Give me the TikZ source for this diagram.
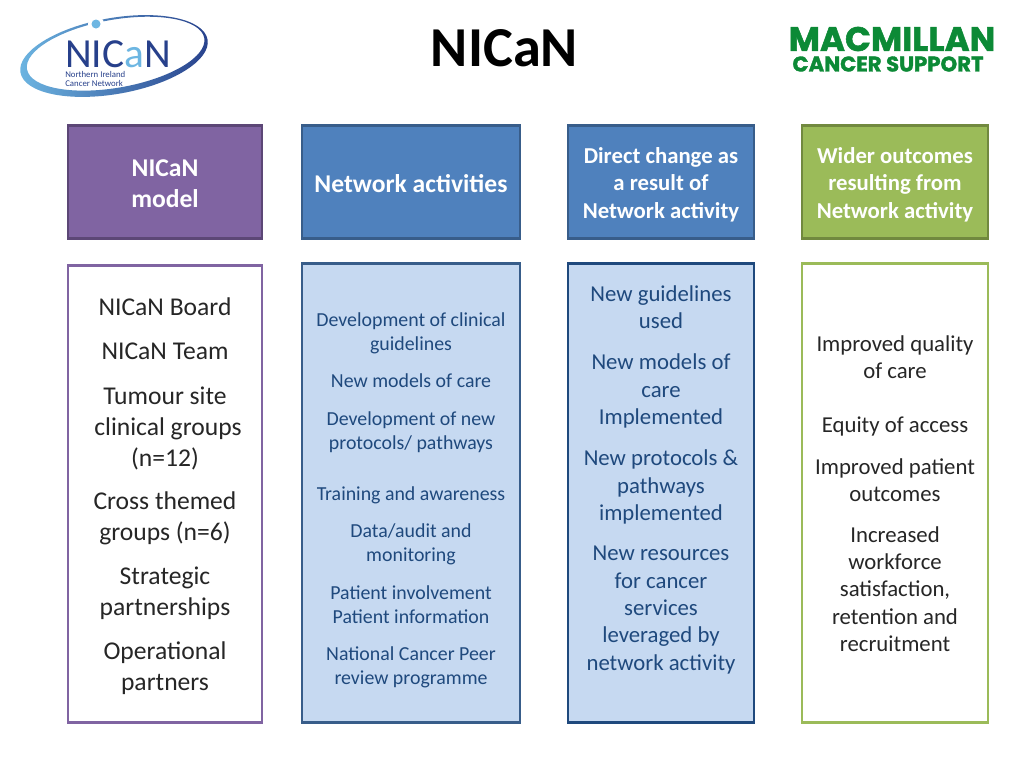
\documentclass[tikz,border=0pt]{standalone}
\usepackage{fontspec}
\setmainfont{Carlito}
\newfontfamily\macfont[FakeBold=1.5]{Poppins}
\definecolor{navy}{HTML}{1F497D}
\definecolor{midblue}{HTML}{4F81BD}
\definecolor{edgeblue}{HTML}{385D8A}
\definecolor{paleblue}{HTML}{C6D9F1}
\definecolor{purp}{HTML}{8064A2}
\definecolor{edgepurp}{HTML}{5C4776}
\definecolor{olive}{HTML}{9BBB59}
\definecolor{edgeolive}{HTML}{71893F}
\definecolor{macgreen}{HTML}{0C8A36}
\definecolor{logoblue}{HTML}{27408B}
\definecolor{logolight}{HTML}{6DB6E2}
\tikzset{
  box/.style={draw,line width=2.2pt,inner sep=0pt,minimum width=#1},
  head/.style={box=#1,minimum height=85pt},
  body/.style={box=#1,minimum height=344pt,fill=paleblue,draw=edgeblue},
  big/.style={align=center,text=black!85,font=\fontsize{19.2}{23.4}\selectfont},
  small/.style={align=center,text=navy,font=\fontsize{14.9}{18}\selectfont},
  mid/.style={align=center,text=navy,font=\fontsize{17.07}{20.5}\selectfont},
  boldmid/.style={align=center,text=white,font=\fontsize{17.07}{20.5}\selectfont\bfseries},
  boldbig/.style={align=center,text=white,font=\fontsize{19.2}{23}\selectfont\bfseries},
}
\begin{document}
\begin{tikzpicture}[x=.75pt,y=-.75pt]
  \useasboundingbox[fill=white] (0,0) rectangle (1024,768);
  % logo on the left
  \shade[left color=logolight,right color=logoblue,even odd rule,rotate around={10:(114,56)}]
    (114,56) ellipse [x radius=95,y radius=38] (116,54) ellipse [x radius=90,y radius=34];
  \fill[white] (96,24) circle (8);
  \fill[logolight] (96,24) circle (4.5);
  \node[text=logoblue,inner sep=0pt,font=\fontsize{31}{31}\selectfont] (logoname) at (118,54) {NIC\textcolor{logolight}{a}N};
  \node[text=logoblue,align=left,font=\fontsize{6.6}{7}\selectfont,anchor=north west,inner sep=0pt] (logosub) at (65,71) {Northern Ireland\\Cancer Network};
  \node[font=\fontsize{42.3}{50}\selectfont\bfseries] (title) at (504.5,48) {NICaN};
  % logo on the right
  \node[text=macgreen,inner sep=0pt,font=\macfont\bfseries\fontsize{25.5}{25.5}\selectfont] (macname) at (892,39) {MACMILLAN};
  \node[text=macgreen,inner sep=0pt,font=\macfont\bfseries\fontsize{15.9}{15.9}\selectfont] (macsub) at (888,64) {CANCER SUPPORT};
  % heading boxes
  \node[head=194*.75pt,fill=purp,draw=edgepurp] (modelhead) at (165,182) {};
  \node[head=218*.75pt,fill=midblue,draw=edgeblue] (activehead) at (411,182) {};
  \node[head=186*.75pt,fill=midblue,draw=edgeblue] (directhead) at (661,182) {};
  \node[head=186*.75pt,fill=olive,draw=edgeolive] (widerhead) at (895,182) {};
  \node[boldbig] (modeltxt) at (165,183.5) {NICaN\\model};
  \node[boldbig] (activetxt) at (411,183.5) {Network activities};
  \node[boldmid] (directtxt) at (661,184.5) {Direct change as\\a result of\\Network activity};
  \node[boldmid] (widertxt) at (895,184.5) {Wider outcomes\\resulting from\\Network activity};
  % lower boxes
  \node[body=194*.75pt,fill=white,draw=purp,minimum height=343pt] (modelbody) at (165,494) {};
  \node[body=218*.75pt] (activebody) at (411,493) {};
  \node[body=186*.75pt,draw=navy] (directbody) at (661,493) {};
  \node[body=186*.75pt,fill=white,draw=olive] (widerbody) at (895,493) {};
  % first column
  \node[big] (boardtxt) at (165,307) {NICaN Board};
  \node[big] (teamtxt) at (165,351) {NICaN Team};
  \node[big] (tumourtxt) at (165,428.5) {Tumour site\\\hspace*{4.5pt}clinical groups\\(n=12)};
  \node[big] (crosstxt) at (165,518) {Cross themed\\groups (n=6)};
  \node[big] (strattxt) at (165,593) {Strategic\\partnerships};
  \node[big] (opertxt) at (165,668) {Operational\\partners};
  % second column
  \node[small] (guidetxt) at (411,333) {Development of clinical\\guidelines};
  \node[small] (modelstxt) at (411,381) {New models of care};
  \node[small] (prototxt) at (411,432) {Development of new\\protocols/ pathways};
  \node[small] (traintxt) at (411,495) {Training and awareness};
  \node[small] (datatxt) at (411,544) {Data/audit and\\monitoring};
  \node[small] (patienttxt) at (411,605) {Patient involvement\\Patient information};
  \node[small] (peertxt) at (411,667) {National Cancer Peer\\review programme};
  % third column
  \node[mid] (usedtxt) at (661,307.5) {New guidelines\\used};
  \node[mid] (impltxt) at (661,391) {New models of\\care\\Implemented};
  \node[mid] (pathtxt) at (661,487) {New protocols \&\\pathways\\implemented};
  \node[mid] (restxt) at (661,610) {New resources\\for cancer\\services\\leveraged by\\network activity};
  % fourth column
  \node[mid,text=black!85] (qualtxt) at (895,357) {Improved quality\\of care};
  \node[mid,text=black!85] (equitxt) at (895,426) {Equity of access};
  \node[mid,text=black!85] (outctxt) at (895,480) {Improved patient\\outcomes};
  \node[mid,text=black!85] (worktxt) at (895,589) {Increased\\workforce\\satisfaction,\\retention and\\recruitment};
\end{tikzpicture}
\end{document}
